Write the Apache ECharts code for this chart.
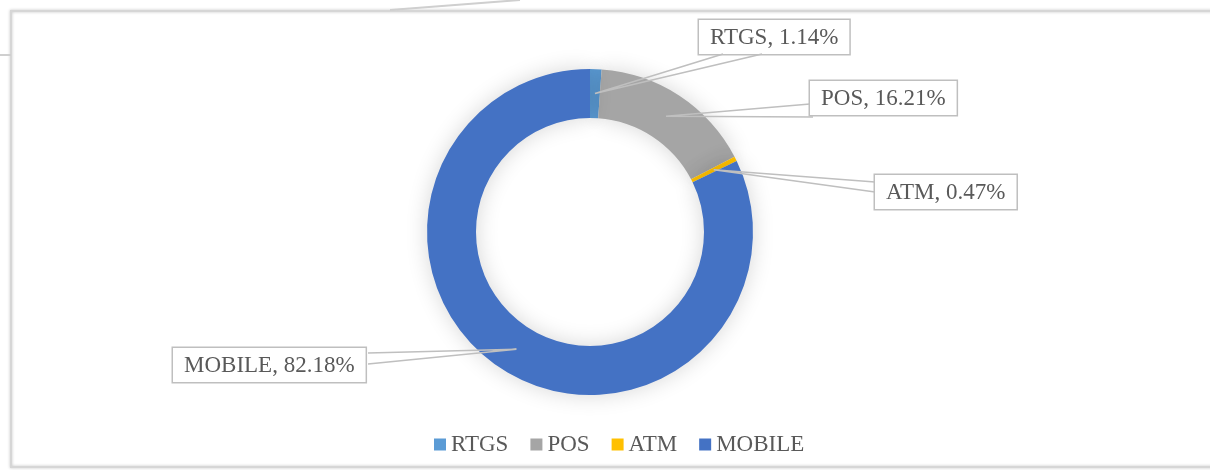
<!DOCTYPE html>
<html>
<head>
<meta charset="utf-8">
<script src="https://cdn.jsdelivr.net/npm/echarts@6/dist/echarts.min.js"></script>
<style>
  html, body { margin: 0; padding: 0; background: #fff; }
  #payment-share-chart { width: 1210px; height: 470px; }
</style>
</head>
<body>
<div id="payment-share-chart"></div>
<script>
// share of transactions by channel (%)
var channels = ['RTGS', 'POS', 'ATM', 'MOBILE'];
var shares = [1.14, 16.21, 0.47, 82.18];
var channelColors = ['#5b9bd5', '#a5a5a5', '#ffc000', '#4472c4'];

// where each callout box sits (top-left) and which two points of its edge the leader meets
var calloutBoxes = [
    { x: 699, y: 20,  edge: [[723, 54], [762, 54]] },
    { x: 810, y: 81,  edge: [[810, 104], [813, 117]] },
    { x: 875, y: 175, edge: [[875, 182], [875, 192]] },
    { x: 173, y: 348, edge: [[368, 353], [368, 364]] }
];

var center = [590, 232];
var innerR = 114, outerR = 163;

// leader starts in the middle of the ring, at the slice's mid angle
var total = shares.reduce(function (a, b) { return a + b; }, 0);
function ringAnchor(i) {
    var before = 0;
    for (var j = 0; j < i; j++) before += shares[j];
    var frac = (before + shares[i] / 2) / total;
    var ang = (90 - frac * 360) * Math.PI / 180;
    var r = (innerR + outerR) / 2;
    return [center[0] + r * Math.cos(ang), center[1] - r * Math.sin(ang)];
}

var leaders = calloutBoxes.map(function (box, i) {
    return {
        type: 'polyline',
        silent: true,
        z: 10,
        shape: { points: [box.edge[0], ringAnchor(i), box.edge[1]] },
        style: { fill: 'none', stroke: '#bfbfbf', lineWidth: 1.5 }
    };
});

var chart = echarts.init(document.getElementById('payment-share-chart'));

var option = {
    animation: false,
    color: channelColors,
    textStyle: { fontFamily: 'Liberation Serif' },
    legend: {
        left: 429,
        top: 428,
        itemWidth: 12,
        itemHeight: 12,
        itemGap: 22,
        icon: 'rect',
        data: channels,
        textStyle: {
            fontFamily: 'Liberation Serif',
            fontSize: 23,
            color: '#595959'
        }
    },
    graphic: [
        {
            type: 'rect',
            silent: true,
            shape: { x: 11, y: 11, width: 1260, height: 456 },
            style: {
                fill: 'none',
                stroke: '#d6d6d6',
                lineWidth: 2,
                shadowBlur: 3,
                shadowColor: 'rgba(0,0,0,0.25)'
            }
        },
        {
            type: 'line',
            silent: true,
            shape: { x1: 390, y1: 10, x2: 520, y2: 0 },
            style: { stroke: '#cfcfcf', lineWidth: 2 }
        },
        {
            type: 'line',
            silent: true,
            shape: { x1: 0, y1: 55, x2: 11, y2: 55 },
            style: { stroke: '#cfcfcf', lineWidth: 2 }
        }
    ].concat(leaders),
    series: [
        {
            name: 'Share',
            type: 'pie',
            center: center,
            radius: [innerR, outerR],
            startAngle: 90,
            clockwise: true,
            avoidLabelOverlap: false,
            itemStyle: {
                borderWidth: 0,
                shadowBlur: 22,
                shadowColor: 'rgba(0,0,0,0.16)'
            },
            label: {
                show: true,
                position: 'outside',
                formatter: function (p) {
                    return p.name + ', ' + p.value.toFixed(2) + '%';
                },
                fontFamily: 'Liberation Serif',
                fontSize: 23,
                lineHeight: 27,
                color: '#595959',
                backgroundColor: '#fff',
                borderColor: '#bfbfbf',
                borderWidth: 1.5,
                padding: [4, 11, 3, 11]
            },
            labelLine: { show: false },
            labelLayout: function (params) {
                var box = calloutBoxes[params.dataIndex];
                return { x: box.x, y: box.y, align: 'left', verticalAlign: 'top' };
            },
            data: channels.map(function (name, i) {
                return { name: name, value: shares[i] };
            })
        }
    ]
};

chart.setOption(option);
</script>
</body>
</html>
